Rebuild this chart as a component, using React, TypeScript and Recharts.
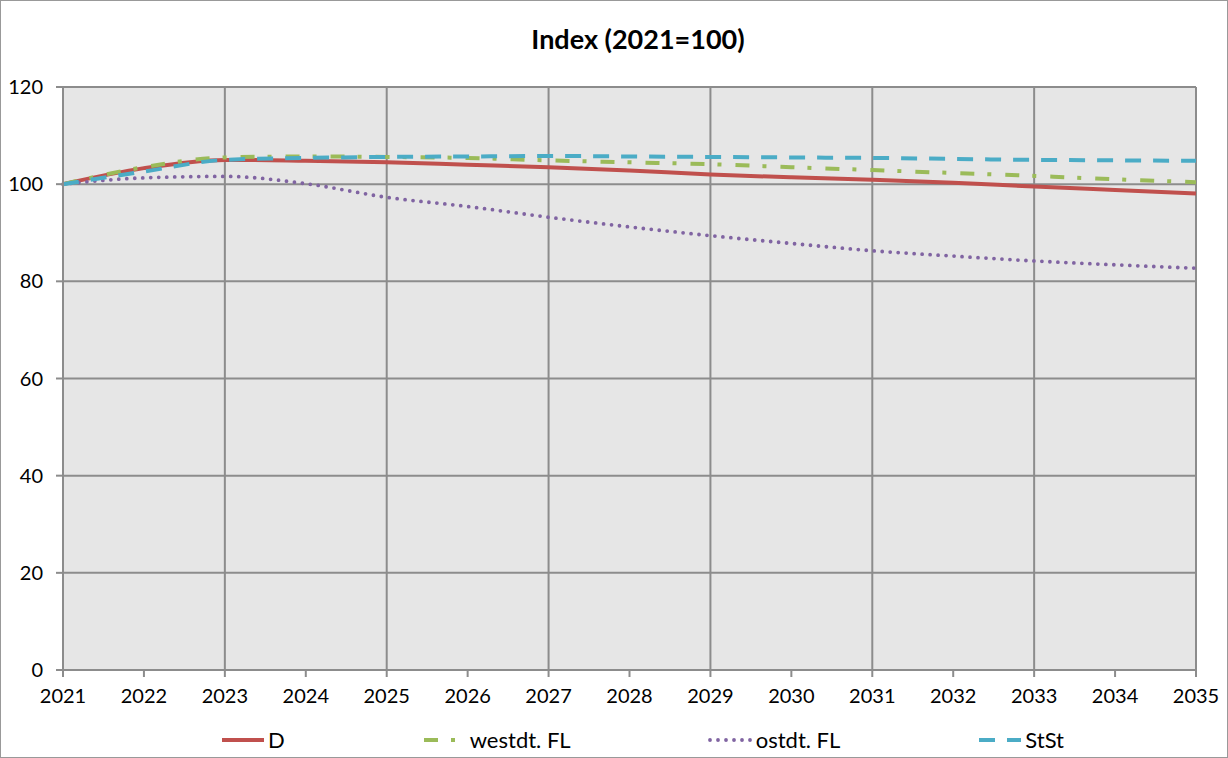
import React from 'react';
import { LineChart, Line, XAxis, YAxis, CartesianGrid, ReferenceLine } from 'recharts';

const years = [2021, 2022, 2023, 2024, 2025, 2026, 2027, 2028, 2029, 2030, 2031, 2032, 2033, 2034, 2035];
const seriesD = [100, 103.3, 105.0, 104.8, 104.5, 104.0, 103.5, 102.8, 102.0, 101.4, 100.9, 100.3, 99.5, 98.8, 98.1];
const seriesWest = [100, 103.5, 105.5, 105.7, 105.6, 105.4, 104.9, 104.5, 104.1, 103.5, 102.9, 102.3, 101.7, 101.0, 100.4];
const seriesOst = [100, 101.3, 101.6, 100.1, 97.3, 95.4, 93.2, 91.2, 89.4, 87.8, 86.3, 85.2, 84.2, 83.4, 82.7];
const seriesStSt = [100, 102.6, 105.0, 105.4, 105.6, 105.7, 105.8, 105.7, 105.6, 105.5, 105.4, 105.2, 105.0, 104.9, 104.8];
const yTicks = [0, 20, 40, 60, 80, 100, 120];
const gridYears = [2023, 2025, 2027, 2029, 2031, 2033, 2035];

const seriesDefs = [
  { key: 'D', name: 'D', color: '#C0504D', dash: undefined as string | undefined, width: 4, cap: 'butt' },
  { key: 'west', name: 'westdt. FL', color: '#9BBB59', dash: '14 13 4 14', width: 4, cap: 'butt' },
  { key: 'ost', name: 'ostdt. FL', color: '#8064A2', dash: '0 8', width: 3.8, cap: 'round' },
  { key: 'stst', name: 'StSt', color: '#4BACC6', dash: '16 12', width: 4, cap: 'butt' },
];

const data = years.map((year, i) => ({
  year,
  D: seriesD[i],
  west: seriesWest[i],
  ost: seriesOst[i],
  stst: seriesStSt[i],
}));

const FONT = 'Lato, "Open Sans", sans-serif';

export default function App() {
  return (
    <div style={{ position: 'absolute', left: 0, top: 0, width: 1228, height: 758, background: '#fff' }}>
      <div style={{ position: 'absolute', left: 0, top: 0, width: 1228, height: 758, boxSizing: 'border-box', border: '1px solid #999', pointerEvents: 'none', zIndex: 2 }} />
      <div style={{ position: 'absolute', left: 0, top: 22, width: 1228, paddingLeft: 48, boxSizing: 'border-box', textAlign: 'center', fontFamily: FONT, fontWeight: 'bold', fontSize: 27, color: '#000' }}>
        Index (2021=100)
      </div>
      <LineChart width={1228} height={758} data={data} margin={{ top: 87, right: 32, left: 0, bottom: 48 }}>
        <CartesianGrid fill="#E6E6E6" stroke="#8C8C8C" strokeWidth={2} vertical={false} />
        {gridYears.map((y) => (
          <ReferenceLine key={y} x={y} stroke="#8C8C8C" strokeWidth={2} />
        ))}
        <XAxis
          type="number"
          dataKey="year"
          domain={[2021, 2035]}
          ticks={years}
          interval={0}
          tickSize={7}
          tickMargin={12}
          height={40}
          axisLine={{ stroke: '#8C8C8C', strokeWidth: 2 }}
          tickLine={{ stroke: '#8C8C8C', strokeWidth: 2 }}
          tick={{ fontSize: 20, fill: '#000', fontFamily: FONT }}
        />
        <YAxis
          domain={[0, 120]}
          ticks={yTicks}
          interval={0}
          width={63}
          tickSize={7}
          tickMargin={13}
          axisLine={{ stroke: '#8C8C8C', strokeWidth: 2 }}
          tickLine={{ stroke: '#8C8C8C', strokeWidth: 2 }}
          tick={{ fontSize: 20, fill: '#000', fontFamily: FONT }}
        />
        {seriesDefs.map((s) => (
          <Line
            key={s.key}
            type="monotone"
            dataKey={s.key}
            name={s.name}
            stroke={s.color}
            strokeWidth={s.width}
            strokeDasharray={s.dash}
            strokeLinecap={s.cap as any}
            dot={false}
            activeDot={false}
            isAnimationActive={false}
          />
        ))}
      </LineChart>
      <div style={{ position: 'absolute', left: 0, top: 726, width: 1228, display: 'flex', justifyContent: 'center', gap: 137, fontFamily: FONT, fontSize: 22, color: '#000', paddingLeft: 56, boxSizing: 'border-box' }}>
        {seriesDefs.map((s) => (
          <div key={s.key} style={{ display: 'flex', alignItems: 'center' }}>
            <svg width={46} height={10} style={{ marginRight: 2 }}>
              <line x1={2} y1={5} x2={44} y2={5} stroke={s.color} strokeWidth={s.width} strokeDasharray={s.dash} strokeLinecap={s.cap as any} />
            </svg>
            <span>{s.name}</span>
          </div>
        ))}
      </div>
    </div>
  );
}
